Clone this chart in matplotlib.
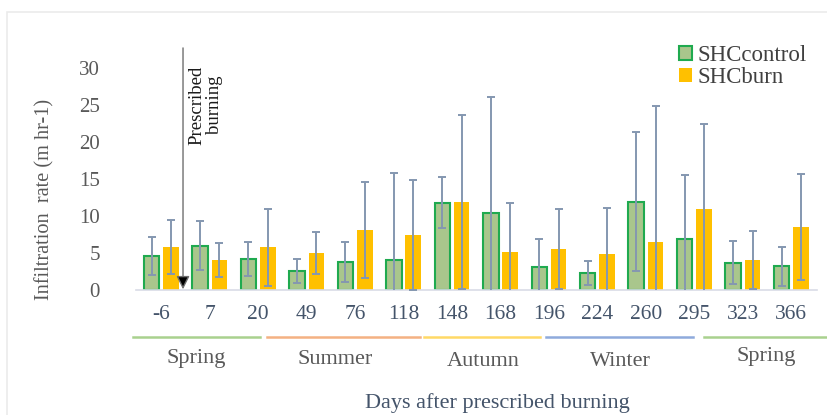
import matplotlib
matplotlib.use('Agg')
import matplotlib.pyplot as plt
import matplotlib.transforms as mtransforms
from matplotlib.patches import Patch, Rectangle
import numpy as np

# days after burning and measured infiltration (mean +/- error)
days = ["-6", "7", "20", "49", "76", "118", "148", "168", "196", "224", "260", "295", "323", "366"]
control_mean = [4.6, 6.0, 4.2, 2.6, 3.8, 4.1, 11.8, 10.4, 3.1, 2.3, 11.9, 6.9, 3.7, 3.2]
control_err = [2.6, 3.3, 2.3, 1.6, 2.7, 11.7, 3.4, 15.7, 3.8, 1.6, 9.4, 8.7, 2.9, 2.6]
burn_mean = [5.8, 4.1, 5.8, 5.0, 8.1, 7.4, 11.9, 5.2, 5.5, 4.8, 6.5, 10.9, 4.1, 8.5]
burn_err = [3.7, 2.3, 5.2, 2.8, 6.5, 7.4, 11.7, 6.5, 5.4, 6.3, 18.4, 11.5, 3.9, 7.2]

seasons = ["Spring", "Summer", "Autumn", "Winter", "Spring"]
season_colors = ["#a9d18e", "#f4b183", "#ffd966", "#8faadc", "#a9d18e"]

# layout of the season brackets under the axis (x in group units, y in pixels)
season_spans = [(-0.58, 2.04), (2.19, 5.34), (5.42, 7.81), (7.94, 10.97), (11.2, 13.9)]
season_label_x = [0.72, 3.59, 6.64, 9.48, 12.49]
season_label_y = [358, 359, 361, 361, 356]

W, H = 828, 415
plt.rcParams['font.family'] = ['Liberation Serif', 'DejaVu Serif']

fig = plt.figure(figsize=(W / 100, H / 100), dpi=100)
ax = fig.add_axes([136 / W, 1 - 290 / H, (817 - 136) / W, (290 - 42) / H])

x = np.arange(len(days))
bw = 0.32
off = 0.2

ax.bar(x - off, control_mean, bw, color="#a9c68c", edgecolor="#1faa4f", linewidth=1.5,
       label="SHCcontrol", zorder=2)
ax.bar(x + off, burn_mean, bw, color="#ffc000", edgecolor="none", label="SHCburn", zorder=2)
ax.errorbar(x - off, control_mean, yerr=control_err, fmt='none', ecolor="#8497b0",
            elinewidth=1.4, capsize=3, capthick=1.4, zorder=3)
ax.errorbar(x + off, burn_mean, yerr=burn_err, fmt='none', ecolor="#8497b0",
            elinewidth=1.4, capsize=3, capthick=1.4, zorder=3)

ax.set_xlim(-0.52, 13.53)
ax.set_ylim(0, 33.5)
ax.set_yticks(range(0, 31, 5))
ax.set_xticks(x)
ax.set_xticklabels(days)
ax.tick_params(axis='y', length=0, labelsize=15, labelcolor="#595959", pad=26)
ax.tick_params(axis='x', length=0, labelsize=15.5, labelcolor="#44546a", pad=11)
for s in ['top', 'right', 'left']:
    ax.spines[s].set_visible(False)
ax.spines['bottom'].set_color("#d9dce6")
ax.spines['bottom'].set_linewidth(1.2)

# prescribed burning marker
ax.annotate("", xy=(0.45, 0.1), xytext=(0.45, 32.7),
            arrowprops=dict(arrowstyle='-|>', lw=1.0, mutation_scale=20,
                            shrinkA=0, shrinkB=0, edgecolor='#6f6f6f', facecolor='black'),
            zorder=4)
fig.text(206 / W, 1 - 105 / H, "Prescribed\nburning", rotation=90, ha='center', va='center',
         fontsize=13.5, color="#1a1a1a", linespacing=1.05)

# season brackets
trans = mtransforms.blended_transform_factory(ax.transData, fig.transFigure)
for (a, b), col in zip(season_spans, season_colors):
    ax.plot([a, b], [1 - 337 / H] * 2, color=col, lw=1.8, transform=trans, clip_on=False)
for name, sx, sy in zip(seasons, season_label_x, season_label_y):
    ax.text(sx, 1 - sy / H, name, transform=trans, ha='center', va='center',
            fontsize=16, color="#595959")

fig.text(497 / W, 1 - 403 / H, "Days after prescribed burning", ha='center', va='center',
         fontsize=16, color="#44546a")
fig.text(45 / W, 1 - 199 / H, "Infiltration  rate (m hr-1)", rotation=90, ha='center',
         va='center', fontsize=14.6, color="#595959")

handles = [Patch(facecolor="#a9c68c", edgecolor="#1faa4f", linewidth=1.5, label="SHCcontrol"),
           Patch(facecolor="#ffc000", edgecolor="none", label="SHCburn")]
fig.legend(handles=handles, loc='upper left', bbox_to_anchor=(670 / W, 1 - 36 / H),
           frameon=False, fontsize=16.5, handlelength=0.55, handleheight=0.55,
           handletextpad=0.25, labelspacing=0.05, labelcolor="#404040", borderaxespad=0)

# faint frame of the original chart area
fig.patches.append(Rectangle((7 / W, -0.1), 1.2, 1 - 12 / H + 0.1, transform=fig.transFigure,
                             fill=False, edgecolor="#ebebeb", lw=1.2))

fig.savefig("out.png", dpi=100)
